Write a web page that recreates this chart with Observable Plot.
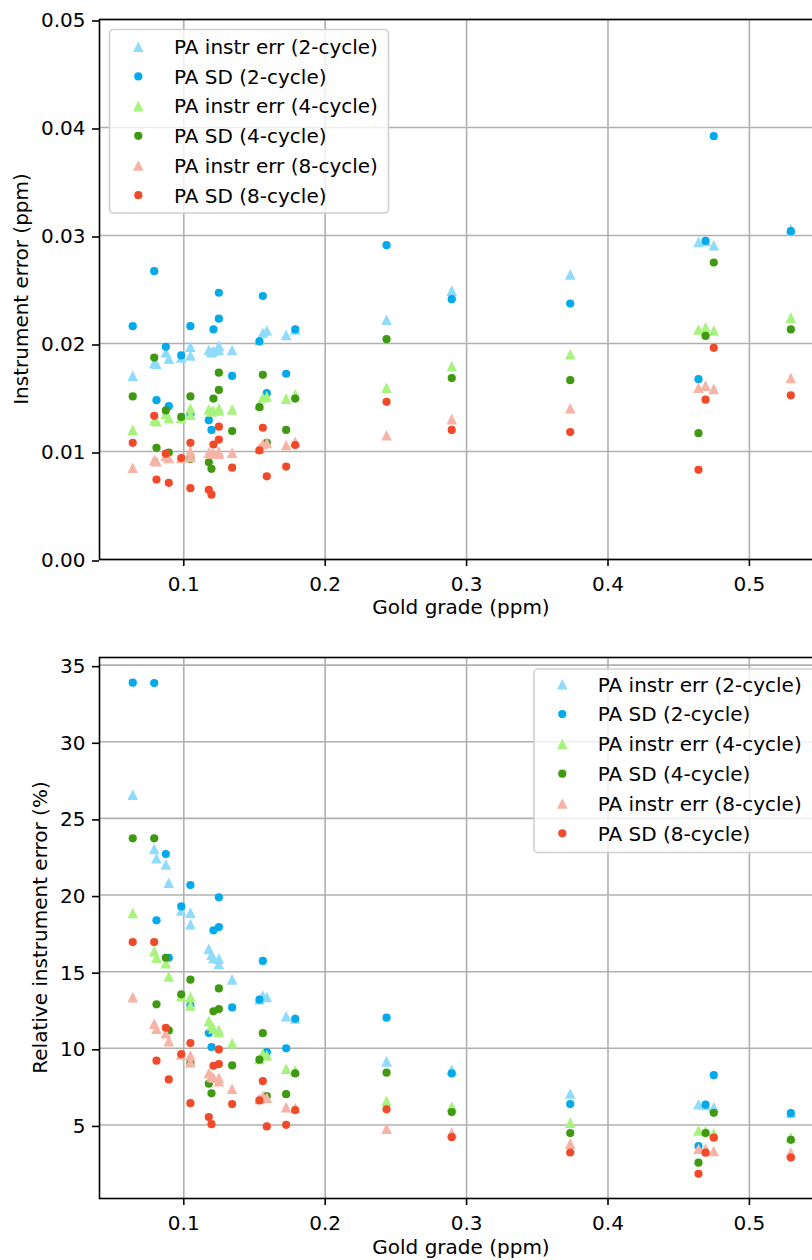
<!DOCTYPE html>
<html><head><meta charset="utf-8">
<script src="https://cdn.jsdelivr.net/npm/d3@7"></script>
<script src="https://cdn.jsdelivr.net/npm/@observablehq/plot@0.6"></script>
<style>
html,body{margin:0;padding:0;background:#fff;}
#wrap{position:relative;width:812px;height:1260px;overflow:hidden;font-family:"DejaVu Sans",sans-serif;}
#wrap svg{display:block;max-width:none !important;}
#wrap svg.overlay{position:absolute;left:0;top:0;}
</style></head><body><div id="wrap"></div>
<script>
// Gold grade (ppm) of each sample
const grade = [0.0639, 0.0791, 0.0807, 0.0873, 0.0894, 0.0982, 0.1047, 0.1047, 0.1177, 0.1196, 0.1210, 0.1248, 0.1248, 0.1342, 0.1535, 0.1559, 0.1587, 0.1724, 0.1788, 0.2434, 0.2895, 0.3733, 0.4640, 0.4690, 0.4748, 0.5293];

// Instrument error (ppm)
const instr2 = [0.0170, 0.0182, 0.0181, 0.0192, 0.0186, 0.0187, 0.0197, 0.0189, 0.0194, 0.0192, 0.0193, 0.0198, 0.0194, 0.0194, 0.0203, 0.0210, 0.0212, 0.0208, 0.0213, 0.0222, 0.0249, 0.0264, 0.0294, 0.0295, 0.0291, 0.0306];
const sd2    = [0.0216, 0.0267, 0.01475, 0.0197, 0.0142, 0.0189, 0.0216, 0.0134, 0.0129, 0.0120, 0.0213, 0.0247, 0.0223, 0.0170, 0.0202, 0.0244, 0.0154, 0.0172, 0.0213, 0.0291, 0.0241, 0.0237, 0.0167, 0.0295, 0.0392, 0.0304];
const instr4 = [0.0120, 0.0129, 0.0128, 0.0135, 0.0131, 0.0131, 0.0140, 0.0134, 0.0139, 0.0137, 0.0138, 0.0140, 0.0138, 0.0139, 0.0143, 0.0150, 0.0151, 0.0149, 0.0153, 0.0159, 0.0179, 0.0190, 0.0213, 0.0215, 0.0212, 0.0224];
const sd4    = [0.0151, 0.0187, 0.01034, 0.0138, 0.0099, 0.0132, 0.0151, 0.0093, 0.0090, 0.0084, 0.0149, 0.0173, 0.0157, 0.0119, 0.0141, 0.0171, 0.0108, 0.0120, 0.0149, 0.0204, 0.0168, 0.0166, 0.0117, 0.0207, 0.0275, 0.0213];
const instr8 = [0.0085, 0.0092, 0.0091, 0.0096, 0.0094, 0.0094, 0.0100, 0.0095, 0.0099, 0.0098, 0.0098, 0.0100, 0.0098, 0.0099, 0.0103, 0.0107, 0.0108, 0.0106, 0.0109, 0.0115, 0.0130, 0.0140, 0.0159, 0.0161, 0.0158, 0.0168];
const sd8    = [0.0108, 0.0133, 0.0074, 0.0098, 0.0071, 0.0094, 0.0108, 0.0066, 0.00645, 0.0060, 0.01065, 0.0123, 0.0111, 0.0085, 0.0101, 0.0122, 0.0077, 0.0086, 0.0106, 0.0146, 0.0120, 0.0118, 0.0083, 0.0148, 0.0196, 0.0152];

// Relative instrument error (%)
const relInstr2 = [26.55, 23.0, 22.4, 22.0, 20.8, 19.0, 18.85, 18.1, 16.5, 16.1, 15.9, 15.85, 15.5, 14.5, 13.2, 13.45, 13.35, 12.1, 11.95, 9.15, 8.6, 7.05, 6.35, 6.3, 6.15, 5.8];
const relSd2    = [33.86, 33.83, 18.35, 22.68, 15.91, 19.26, 20.65, 12.8, 11.0, 10.08, 17.7, 19.85, 17.91, 12.67, 13.17, 15.7, 9.75, 10.0, 11.93, 12.0, 8.36, 6.36, 3.62, 6.32, 8.25, 5.77];
const relInstr4 = [18.83, 16.34, 15.91, 15.56, 14.69, 13.4, 13.34, 12.8, 11.78, 11.49, 11.3, 11.2, 11.06, 10.34, 9.3, 9.65, 9.54, 8.67, 8.56, 6.56, 6.2, 5.15, 4.64, 4.6, 4.45, 4.2];
const relSd4    = [23.7, 23.7, 12.87, 15.91, 11.17, 13.52, 14.48, 9.03, 7.69, 7.06, 12.41, 13.91, 12.56, 8.88, 9.26, 10.99, 6.88, 7.01, 8.36, 8.41, 5.84, 4.47, 2.54, 4.47, 5.79, 4.03];
const relInstr8 = [13.34, 11.6, 11.28, 10.99, 10.47, 9.6, 9.54, 9.1, 8.38, 8.17, 8.1, 8.08, 7.86, 7.36, 6.7, 6.88, 6.78, 6.16, 6.1, 4.76, 4.5, 3.78, 3.45, 3.45, 3.3, 3.2];
const relSd8    = [16.93, 16.93, 9.19, 11.34, 7.97, 9.62, 10.34, 6.42, 5.51, 5.05, 8.86, 9.93, 8.97, 6.36, 6.6, 7.86, 4.9, 5.01, 5.97, 6.02, 4.2, 3.2, 1.81, 3.19, 4.17, 2.87];

const seriesLabels = ["PA instr err (2-cycle)", "PA SD (2-cycle)", "PA instr err (4-cycle)", "PA SD (4-cycle)", "PA instr err (8-cycle)", "PA SD (8-cycle)"];
const seriesColors = ["#8fdbfc", "#02aaec", "#a8f27e", "#3f9a12", "#f6b4a6", "#f14a2a"];
const seriesTri = [true, false, true, false, true, false];

const xTicks = [0.1, 0.2, 0.3, 0.4, 0.5];
const yTicksTop = [0, 0.01, 0.02, 0.03, 0.04, 0.05];
const yTicksBot = [5, 10, 15, 20, 25, 30, 35];

// matplotlib-style "^" marker (bbox-centred triangle)
const tri = {draw(ctx, size){const h = Math.sqrt(size/Math.PI); ctx.moveTo(0,-h); ctx.lineTo(h,h); ctx.lineTo(-h,h); ctx.closePath();}};
const TRI_R = 5.3, DOT_R = 4.1;

const rows = vals => grade.map((g,i)=>({x:g, y:vals[i]}));

function makePlot(valsList, yDomain, yTicks, yFmt, mt, mb){
  const marks = [
    Plot.gridX(xTicks, {stroke:"#b0b0b0", strokeOpacity:1, strokeWidth:1.6}),
    Plot.gridY(yTicks, {stroke:"#b0b0b0", strokeOpacity:1, strokeWidth:1.6})
  ];
  valsList.forEach((vals,k)=>{
    marks.push(Plot.dot(rows(vals), {x:"x", y:"y", symbol: seriesTri[k] ? tri : "circle", r: seriesTri[k] ? TRI_R : DOT_R, fill: seriesColors[k], stroke:"none"}));
  });
  marks.push(Plot.frame({stroke:"#000", strokeWidth:1.6}));
  marks.push(Plot.axisX(xTicks, {tickFormat: d=>d.toFixed(1), tickSize:7, tickPadding:10, strokeWidth:1.6, label:null}));
  marks.push(Plot.axisY(yTicks, {tickFormat: yFmt, tickSize:7, tickPadding:7, strokeWidth:1.6, dy:1.5, label:null}));
  return Plot.plot({
    width: 850, height: 630,
    marginLeft: 99, marginRight: 27, marginTop: mt, marginBottom: mb,
    style: {fontSize:"20px", fontFamily:"DejaVu Sans", color:"#000", background:"#fff", maxWidth:"none", overflow:"visible"},
    x: {domain:[0.0404, 0.5524]},
    y: {domain: yDomain},
    marks
  });
}

const wrap = document.getElementById("wrap");
wrap.appendChild(makePlot([instr2, sd2, instr4, sd4, instr8, sd8], [0, 0.05], yTicksTop, d=>d.toFixed(2), 19, 71));
wrap.appendChild(makePlot([relInstr2, relSd2, relInstr4, relSd4, relInstr8, relSd8], [0.2, 35.5], yTicksBot, d=>String(d), 27, 62));

// overlay: axis labels and legends
const ov = d3.select(wrap).append("svg").attr("class","overlay").attr("width",812).attr("height",1260)
  .style("font-family","DejaVu Sans").style("font-size","20px");

function xlabel(y){ ov.append("text").attr("x",461).attr("y",y).attr("text-anchor","middle").attr("fill","#000").text("Gold grade (ppm)"); }
function ylabel(x, y, t){ ov.append("text").attr("transform",`translate(${x},${y}) rotate(-90)`).attr("text-anchor","middle").attr("fill","#000").text(t); }
xlabel(614); xlabel(1254);
ylabel(28, 289, "Instrument error (ppm)");
ylabel(47, 927.5, "Relative instrument error (%)");

function legend(bx, by, bw, bh, mx, tx, y0, dy){
  const g = ov.append("g");
  g.append("rect").attr("x",bx).attr("y",by).attr("width",bw).attr("height",bh).attr("rx",4)
    .attr("fill","#fff").attr("fill-opacity",0.8).attr("stroke","#d0d0d0").attr("stroke-width",1.6);
  seriesLabels.forEach((lab,k)=>{
    const cy = y0 + k*dy;
    const r = seriesTri[k] ? TRI_R : DOT_R;
    g.append("path").attr("transform",`translate(${mx},${cy})`)
      .attr("d", d3.symbol(seriesTri[k] ? tri : d3.symbolCircle, Math.PI*r*r)())
      .attr("fill", seriesColors[k]);
    g.append("text").attr("x",tx).attr("y",cy+7.3).attr("fill","#000").text(lab);
  });
}
legend(109.5, 29.5, 279, 183.5, 138.3, 174, 46.7, 29.7);
legend(534, 669, 300, 183.5, 562.3, 597.8, 684.3, 29.8);
</script></body></html>
